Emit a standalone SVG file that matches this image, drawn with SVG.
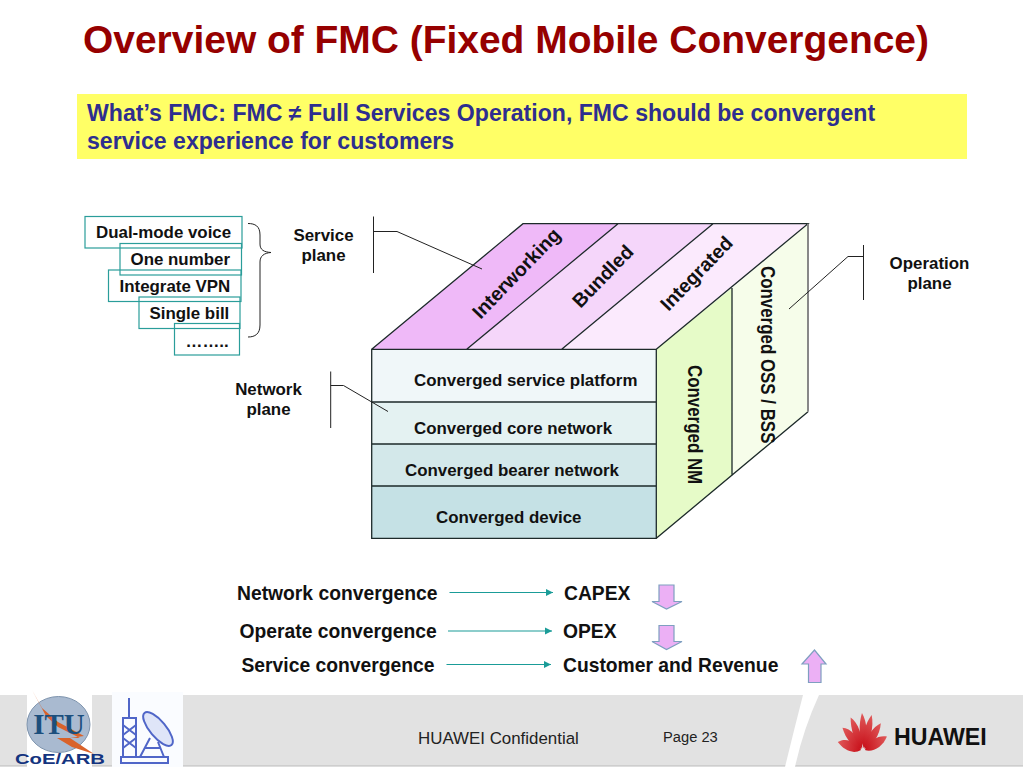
<svg xmlns="http://www.w3.org/2000/svg" width="1023" height="767" viewBox="0 0 1023 767">
<style>
text{font-family:"Liberation Sans",Arial,sans-serif;font-weight:700;fill:#111}
.c{text-anchor:middle}
.l{font-size:16.900px}
.b{fill:#fff;fill-opacity:0;stroke:#2a9d9a;stroke-width:1.2}
.k{fill:none;stroke:#222;stroke-width:1}
.e{stroke:#1d2a2a;stroke-width:1.3}
.p{fill:#ecb0f5;stroke:#7f9fc0;stroke-width:1.2}
.t{stroke:#1a9c98;stroke-width:1.2;fill:none;marker-end:url(#a)}
.f{font-weight:400;fill:#222}
.r{font-size:19.300px}
</style>
<defs>
<marker id="a" markerWidth="8" markerHeight="8" refX="6" refY="3" orient="auto"><path d="M0 0L6 3L0 6z" fill="#1a9c98"/></marker>
<linearGradient id="g" x1="0" y1="0" x2="0" y2="1"><stop offset="0" stop-color="#e05a5a"/><stop offset="1" stop-color="#c8101a"/></linearGradient>
<path id="pet" d="M0 0C-8 -10 -8 -24 -3 -35C5 -26 6 -10 0 0z" fill="url(#g)"/>
</defs>

<g id="title"><text x="83" y="53" font-size="38.950" style="fill:#960000">Overview of FMC (Fixed Mobile Convergence)</text></g>
<g id="banner">
<rect x="77" y="94" width="890" height="65" fill="#ffff66"/>
<text x="87" y="121" font-size="23.100" style="fill:#2e2e8f">What’s FMC: FMC ≠ Full Services Operation, FMC should be convergent</text>
<text x="87" y="149" font-size="23.100" style="fill:#2e2e8f">service experience for customers</text>
</g>

<g id="service-list">
<rect class="b" x="85" y="216.500" width="157" height="31.500"/>
<rect class="b" x="120" y="243.500" width="121.500" height="31.500"/>
<rect class="b" x="108.500" y="270" width="132.500" height="31.500"/>
<rect class="b" x="139" y="297" width="101" height="31.500"/>
<rect class="b" x="174.500" y="323.500" width="65" height="31.500"/>
<text x="96" y="238" class="l">Dual-mode voice</text>
<text x="130.500" y="265" class="l">One number</text>
<text x="119.500" y="291.500" class="l">Integrate VPN</text>
<text x="149.500" y="318.500" class="l">Single bill</text>
<text x="185.500" y="347" class="l">……..</text>
</g>
<g id="brace"><path class="k" d="M248 223.500C255 223.500 260 226 260 235V244C260 250 264 252 271 252.500C264 253 260 256 260 262V325C260 334 255 337 248 337"/></g>
<g id="service-plane-label"><text x="323.500" y="241" class="l c">Service</text><text x="323.500" y="261" class="l c">plane</text></g>
<g id="network-plane-label"><text x="268.500" y="395" class="l c">Network</text><text x="268.500" y="415" class="l c">plane</text></g>
<g id="operation-plane-label"><text x="929.500" y="269" class="l c">Operation</text><text x="929.500" y="289" class="l c">plane</text></g>

<g id="cube">
<path d="M371.700 349.300L523 223.700H618L466.700 349.300z" fill="#efb9f8"/>
<path d="M466.700 349.300L618 223.700H713L561.700 349.300z" fill="#f5d6fa"/>
<path d="M561.700 349.300L713 223.700H808L656.300 349.300z" fill="#fbeafd"/>
<path d="M656.300 349.300L732 288V475.700L656.300 538.300z" fill="#e6fbc8"/>
<path d="M732 288L808 223.700V411.700L732 475.700z" fill="#f6fdea"/>
<rect x="371.700" y="349.300" width="284.600" height="52.700" fill="#f0f7f9"/>
<rect x="371.700" y="402" width="284.600" height="42" fill="#e4f2f2"/>
<rect x="371.700" y="444" width="284.600" height="42" fill="#d3e8ea"/>
<rect x="371.700" y="486" width="284.600" height="52.300" fill="#c5e1e5"/>
<path class="e" fill="none" d="M371.700 349.300H656.300V538.300H371.700zM371.700 402H656.300M371.700 444H656.300M371.700 486H656.300M371.700 349.300L523 223.700H808L656.300 349.300M466.700 349.300L618 223.700M561.700 349.300L713 223.700M656.300 538.300L808 411.700M732 288V475.700"/>
<path d="M808 223.700V411.700" stroke="#888" stroke-width="2" fill="none"/>
<text x="414" y="386" class="l">Converged service platform</text>
<text x="414" y="433.500" class="l">Converged core network</text>
<text x="405" y="475.500" class="l">Converged bearer network</text>
<text x="436" y="523" class="l">Converged device</text>
<text transform="translate(480.500 320) rotate(-46)" font-size="19.500">Interworking</text>
<text transform="translate(580.500 309) rotate(-46)" font-size="19.500">Bundled</text>
<text transform="translate(668.500 312) rotate(-46)" font-size="19.500">Integrated</text>
<text transform="translate(688 365) rotate(90) scale(1 1.150)" class="l">Converged NM</text>
<text transform="translate(760.500 266) rotate(90) scale(1 1.150)" class="l">Converged OSS / BSS</text>
</g>

<g id="leaders">
<path class="k" d="M373.500 216.500V273M373.500 231.500H397L482 269"/>
<path class="k" d="M330.700 371.500V428M330.700 385.500H343.500L388 411.500"/>
<path class="k" d="M863.500 245V300M863.500 256.500H848L789 309"/>
</g>

<g id="outcomes">
<text x="237" y="599.500" class="r">Network convergence</text>
<text x="239.500" y="637.500" class="r">Operate convergence</text>
<text x="241.500" y="671.500" class="r">Service convergence</text>
<text x="564" y="599.500" class="r">CAPEX</text>
<text x="563" y="637.500" class="r">OPEX</text>
<text x="563" y="671.500" class="r">Customer and Revenue</text>
</g>
<g id="connectors">
<path class="t" d="M449.500 592.500H553"/>
<path class="t" d="M448 631H552"/>
<path class="t" d="M446.500 664.500H551"/>
</g>
<g id="down-arrow-capex"><path class="p" d="M659 585H674V601.500H682L666.500 609L652 601.500H659z"/></g>
<g id="down-arrow-opex"><path class="p" d="M659 625.500H674V641.500H682L666.500 649.500L652 641.500H659z"/></g>
<g id="up-arrow-revenue"><path class="p" d="M808.500 682.500H821V664H826L814.500 650L802 664H808.500z"/></g>

<g id="footer">
<rect x="0" y="695" width="1023" height="71" fill="#e2e2e2"/>
<path d="M0 766H1023" stroke="#bbb" stroke-width="1"/>
<path d="M803 695H819Q803 730 795 767H785Q794 730 803 695z" fill="#fff"/>
<rect x="27" y="695" width="65" height="72" fill="#fff"/>
<rect x="112" y="692" width="71" height="75" fill="#fafcff"/>
<text x="418" y="744" font-size="16.900" class="f">HUAWEI Confidential</text>
<text x="663" y="742" font-size="14.700" class="f">Page 23</text>
</g>
<g id="itu-logo">
<ellipse cx="58.500" cy="724.500" rx="31.500" ry="28" fill="#a9bad0" stroke="#7d93ad" stroke-width="1"/>
<path d="M32 690L46 716L58 727L80 738L57 738L72 747L94 754L70 738L84 736L58 722L42 708z" fill="#d9622a"/>
<text x="59" y="734" font-size="29" class="c" style="font-family:'Liberation Serif',serif;fill:#1c4f7d">ITU</text>
<text x="15" y="764" font-size="14" textLength="90" lengthAdjust="spacingAndGlyphs" style="fill:#14347f">CoE/ARB</text>
</g>
<g id="tower-logo" fill="none" stroke="#5066c8" stroke-width="2">
<path d="M129 698V718M123 718H136V757H123zM123 725L136 735M136 725L123 735M123 738L136 748M136 738L123 748M121 757H168V763H121z"/>
<ellipse cx="158" cy="729" rx="21" ry="8" transform="rotate(50 158 729)" fill="#dfe5f8"/>
<path d="M150 738L140 757M158 742L164 757M145 748H161"/>
</g>
<g id="huawei-logo">
<g transform="translate(863 751) scale(.68 1)">
<use href="#pet" transform="rotate(-72) translate(0 -3)"/>
<use href="#pet" transform="rotate(-48) translate(0 -3)"/>
<use href="#pet" transform="rotate(-24) translate(0 -3)"/>
<use href="#pet" transform="translate(1.500 -3)"/>
<use href="#pet" transform="rotate(24) translate(0 -3)"/>
<use href="#pet" transform="rotate(48) translate(0 -3)"/>
<use href="#pet" transform="rotate(72) translate(0 -3)"/>
</g>
<text x="894" y="745" font-size="23.200" style="fill:#111">HUAWEI</text>
</g>
</svg>
